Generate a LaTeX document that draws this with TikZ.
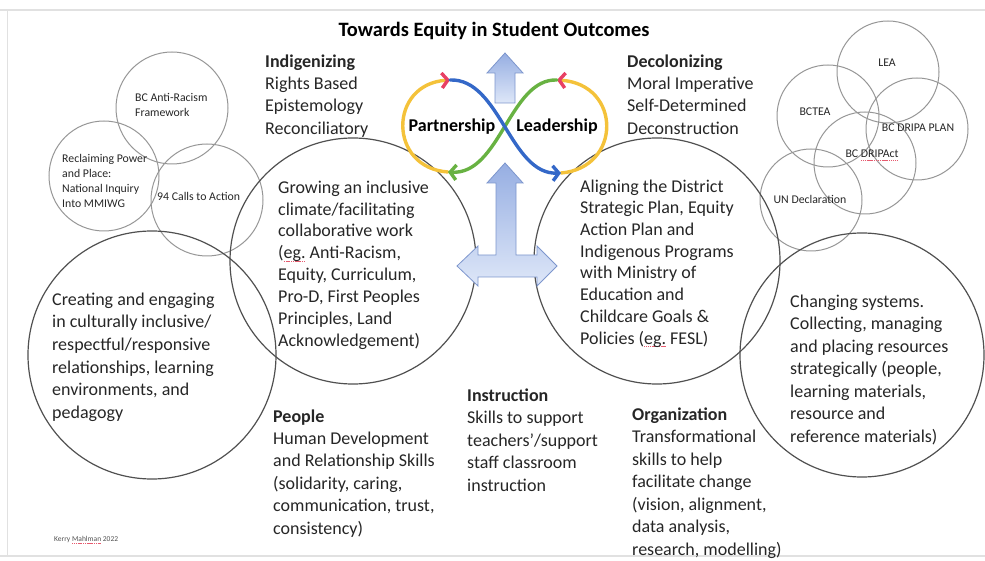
\documentclass[tikz,border=0pt]{standalone}
\usepackage{fontspec}
\setmainfont{Carlito}
\usetikzlibrary{arrows.meta}

\definecolor{textc}{RGB}{38,38,38}
\definecolor{ringdark}{RGB}{80,80,80}
\definecolor{ringlight}{RGB}{150,150,150}
\definecolor{framec}{RGB}{225,225,225}
\definecolor{loopyellow}{RGB}{244,194,58}
\definecolor{loopblue}{RGB}{52,104,200}
\definecolor{loopgreen}{RGB}{104,178,66}
\definecolor{looppink}{RGB}{232,64,100}
\definecolor{arrowtop}{RGB}{150,174,226}
\definecolor{arrowbot}{RGB}{222,231,248}
\definecolor{arrowedge}{RGB}{125,150,205}
\definecolor{spellred}{RGB}{230,90,110}

% dotted red underline, as a spell checker marks a word
\newcommand\spellmark[1]{\leavevmode\setbox0\hbox{#1}%
  \rlap{\color{spellred}\lower3pt\hbox to\wd0{\xleaders\hbox{\rule{1.2pt}{0.7pt}\kern0.6pt}\hfill}}\box0\relax}

\begin{document}
\begin{tikzpicture}[x=1pt,y=-1pt,
  bigring/.style={circle, draw=ringdark, line width=1.2pt, inner sep=0pt},
  smallring/.style={circle, draw=ringlight, line width=1pt, inner sep=0pt},
  body/.style={font=\fontsize{18}{#1}\selectfont, text=textc, anchor=north west, align=left, inner sep=0pt},
  small/.style={font=\fontsize{11.8}{#1}\selectfont, text=textc, anchor=north west, align=left, inner sep=0pt},
  tag/.style={font=\fontsize{11.8}{14}\selectfont, text=textc, inner sep=0pt},
  heading/.style={font=\fontsize{20.4}{24}\selectfont\bfseries, text=black, inner sep=0pt},
  looplabel/.style={font=\fontsize{18}{22}\selectfont\bfseries, text=black, inner sep=0pt},
  blockarrow/.style={draw=arrowedge, line width=0.8pt, top color=arrowtop, bottom color=arrowbot, line join=miter},
  loopline/.style={line width=3.4pt, line cap=round},
  barb/.style={-{Straight Barb[length=6pt,width=15pt,#1]}}
]
\useasboundingbox (0,0) rectangle (985,561);

% slide frame
\draw[framec, line width=1.5pt] (0,10) -- (985,10);
\draw[framec, line width=1pt] (7,10) -- (7,556);
\draw[framec, line width=1.5pt] (0,556) -- (985,556);

% outer small rings, left cluster
\node[smallring, minimum size=112pt] (bcar) at (172,108) {};
\node[smallring, minimum size=110pt] (rpp) at (104,176) {};
\node[smallring, minimum size=112pt] (calls) at (207,200) {};

% outer small rings, right cluster
\node[smallring, minimum size=102pt] (lea) at (888,72) {};
\node[smallring, minimum size=102pt] (bctea) at (828,116) {};
\node[smallring, minimum size=102pt] (dplan) at (917,129) {};
\node[smallring, minimum size=102pt] (dact) at (865,163) {};
\node[smallring, minimum size=102pt] (undecl) at (811,200) {};

% main rings
\node[bigring, minimum size=246pt] (grow) at (353,261) {};
\node[bigring, minimum size=246pt] (align) at (657,261) {};
\node[bigring, minimum size=248pt] (create) at (152,355) {};
\node[bigring, minimum size=244pt] (change) at (862,355) {};

% block arrows
\path[blockarrow] (505,53) -- (523,73) -- (515,73) -- (515,103) -- (495,103) -- (495,73) -- (487,73) -- cycle;
\path[blockarrow] (505,163) -- (523,183) -- (516,183) -- (516,255) -- (537,255) -- (537,246)
  -- (557,266) -- (537,286) -- (537,277) -- (478,277) -- (478,286) -- (457,266) -- (478,246)
  -- (478,255) -- (496,255) -- (496,183) -- (487,183) -- cycle;

% infinity loop
\coordinate (ptl) at (450,80);
\coordinate (ptr) at (557,80);
\coordinate (pbl) at (448,172);
\coordinate (pbr) at (561,173);
\draw[loopline, loopyellow, barb={color=looppink}] (pbl) .. controls (388,168) and (388,84) .. (ptl);
\draw[loopline, loopyellow, barb={color=looppink}] (pbr) .. controls (622,168) and (622,84) .. (ptr);
\draw[loopline, loopgreen, barb={}] (ptr) .. controls (510,78) and (500,175) .. (pbl);
\draw[loopline, loopblue, barb={}] (ptl) .. controls (500,78) and (510,175) .. (pbr);
\node[looplabel] (partner) at (452,127) {Partnership};
\node[looplabel] (leader) at (557,127) {Leadership};

% title
\node[heading, anchor=base] (title) at (494,36.5) {Towards Equity in Student Outcomes};

% small ring labels
\node[small=14.6] (bcartxt) at (135,91.3) {\strut BC Anti-Racism\\Framework};
\node[small=14.8] (rpptxt) at (62,152.3) {\strut Reclaiming Power\\and Place:\\National Inquiry\\Into MMIWG};
\node[tag, anchor=base west] (callstxt) at (157,200.5) {94 Calls to Action};
\node[tag] (leatxt) at (887,63) {LEA};
\node[tag] (bcteatxt) at (815,112) {BCTEA};
\node[tag] (dplantxt) at (918,128) {BC DRIPA PLAN};
\node[tag] (dacttxt) at (872,155) {BC \spellmark{DRIPAct}};
\node[tag] (undecltxt) at (810,199) {UN Declaration};

% text blocks
\node[body=22.3] (indig) at (265,51.4) {\strut\textbf{Indigenizing}\\Rights Based\\Epistemology\\Reconciliatory};
\node[body=22.3] (decol) at (627,51.4) {\strut\textbf{Decolonizing}\\Moral Imperative\\Self-Determined\\Deconstruction};
\node[body=21.85] (growtxt) at (278,177.7) {\strut Growing an inclusive\\climate/facilitating\\collaborative work\\(\spellmark{eg.} Anti-Racism,\\Equity, Curriculum,\\Pro-D, First Peoples\\Principles, Land\\Acknowledgement)};
\node[body=21.7] (aligntxt) at (580,176.8) {\strut Aligning the District\\Strategic Plan, Equity\\Action Plan and\\Indigenous Programs\\with Ministry of\\Education and\\Childcare Goals \&\\Policies (\spellmark{eg.} FESL)};
\node[body=22.6] (createtxt) at (52,289.2) {\strut Creating and engaging\\in culturally inclusive/\\respectful/responsive\\relationships, learning\\environments, and\\pedagogy};
\node[body=22.5] (changetxt) at (790,291.3) {\strut Changing systems.\\Collecting, managing\\and placing resources\\strategically (people,\\learning materials,\\resource and\\reference materials)};
\node[body=22.4] (people) at (273,406.3) {\strut\textbf{People}\\Human Development\\and Relationship Skills\\(solidarity, caring,\\communication, trust,\\consistency)};
\node[body=22.5] (instr) at (467,385.3) {\strut\textbf{Instruction}\\Skills to support\\teachers'/support\\staff classroom\\instruction};
\node[body=22.5] (org) at (632,404.3) {\strut\textbf{Organization}\\Transformational\\skills to help\\facilitate change\\(vision, alignment,\\data analysis,\\research, modelling)};

% credit line
\node[font=\fontsize{7.5}{9}\selectfont, text=textc!80, anchor=west, inner sep=0pt] (credit) at (54,540) {Kerry \spellmark{Mahlman} 2022};
\end{tikzpicture}
\end{document}
